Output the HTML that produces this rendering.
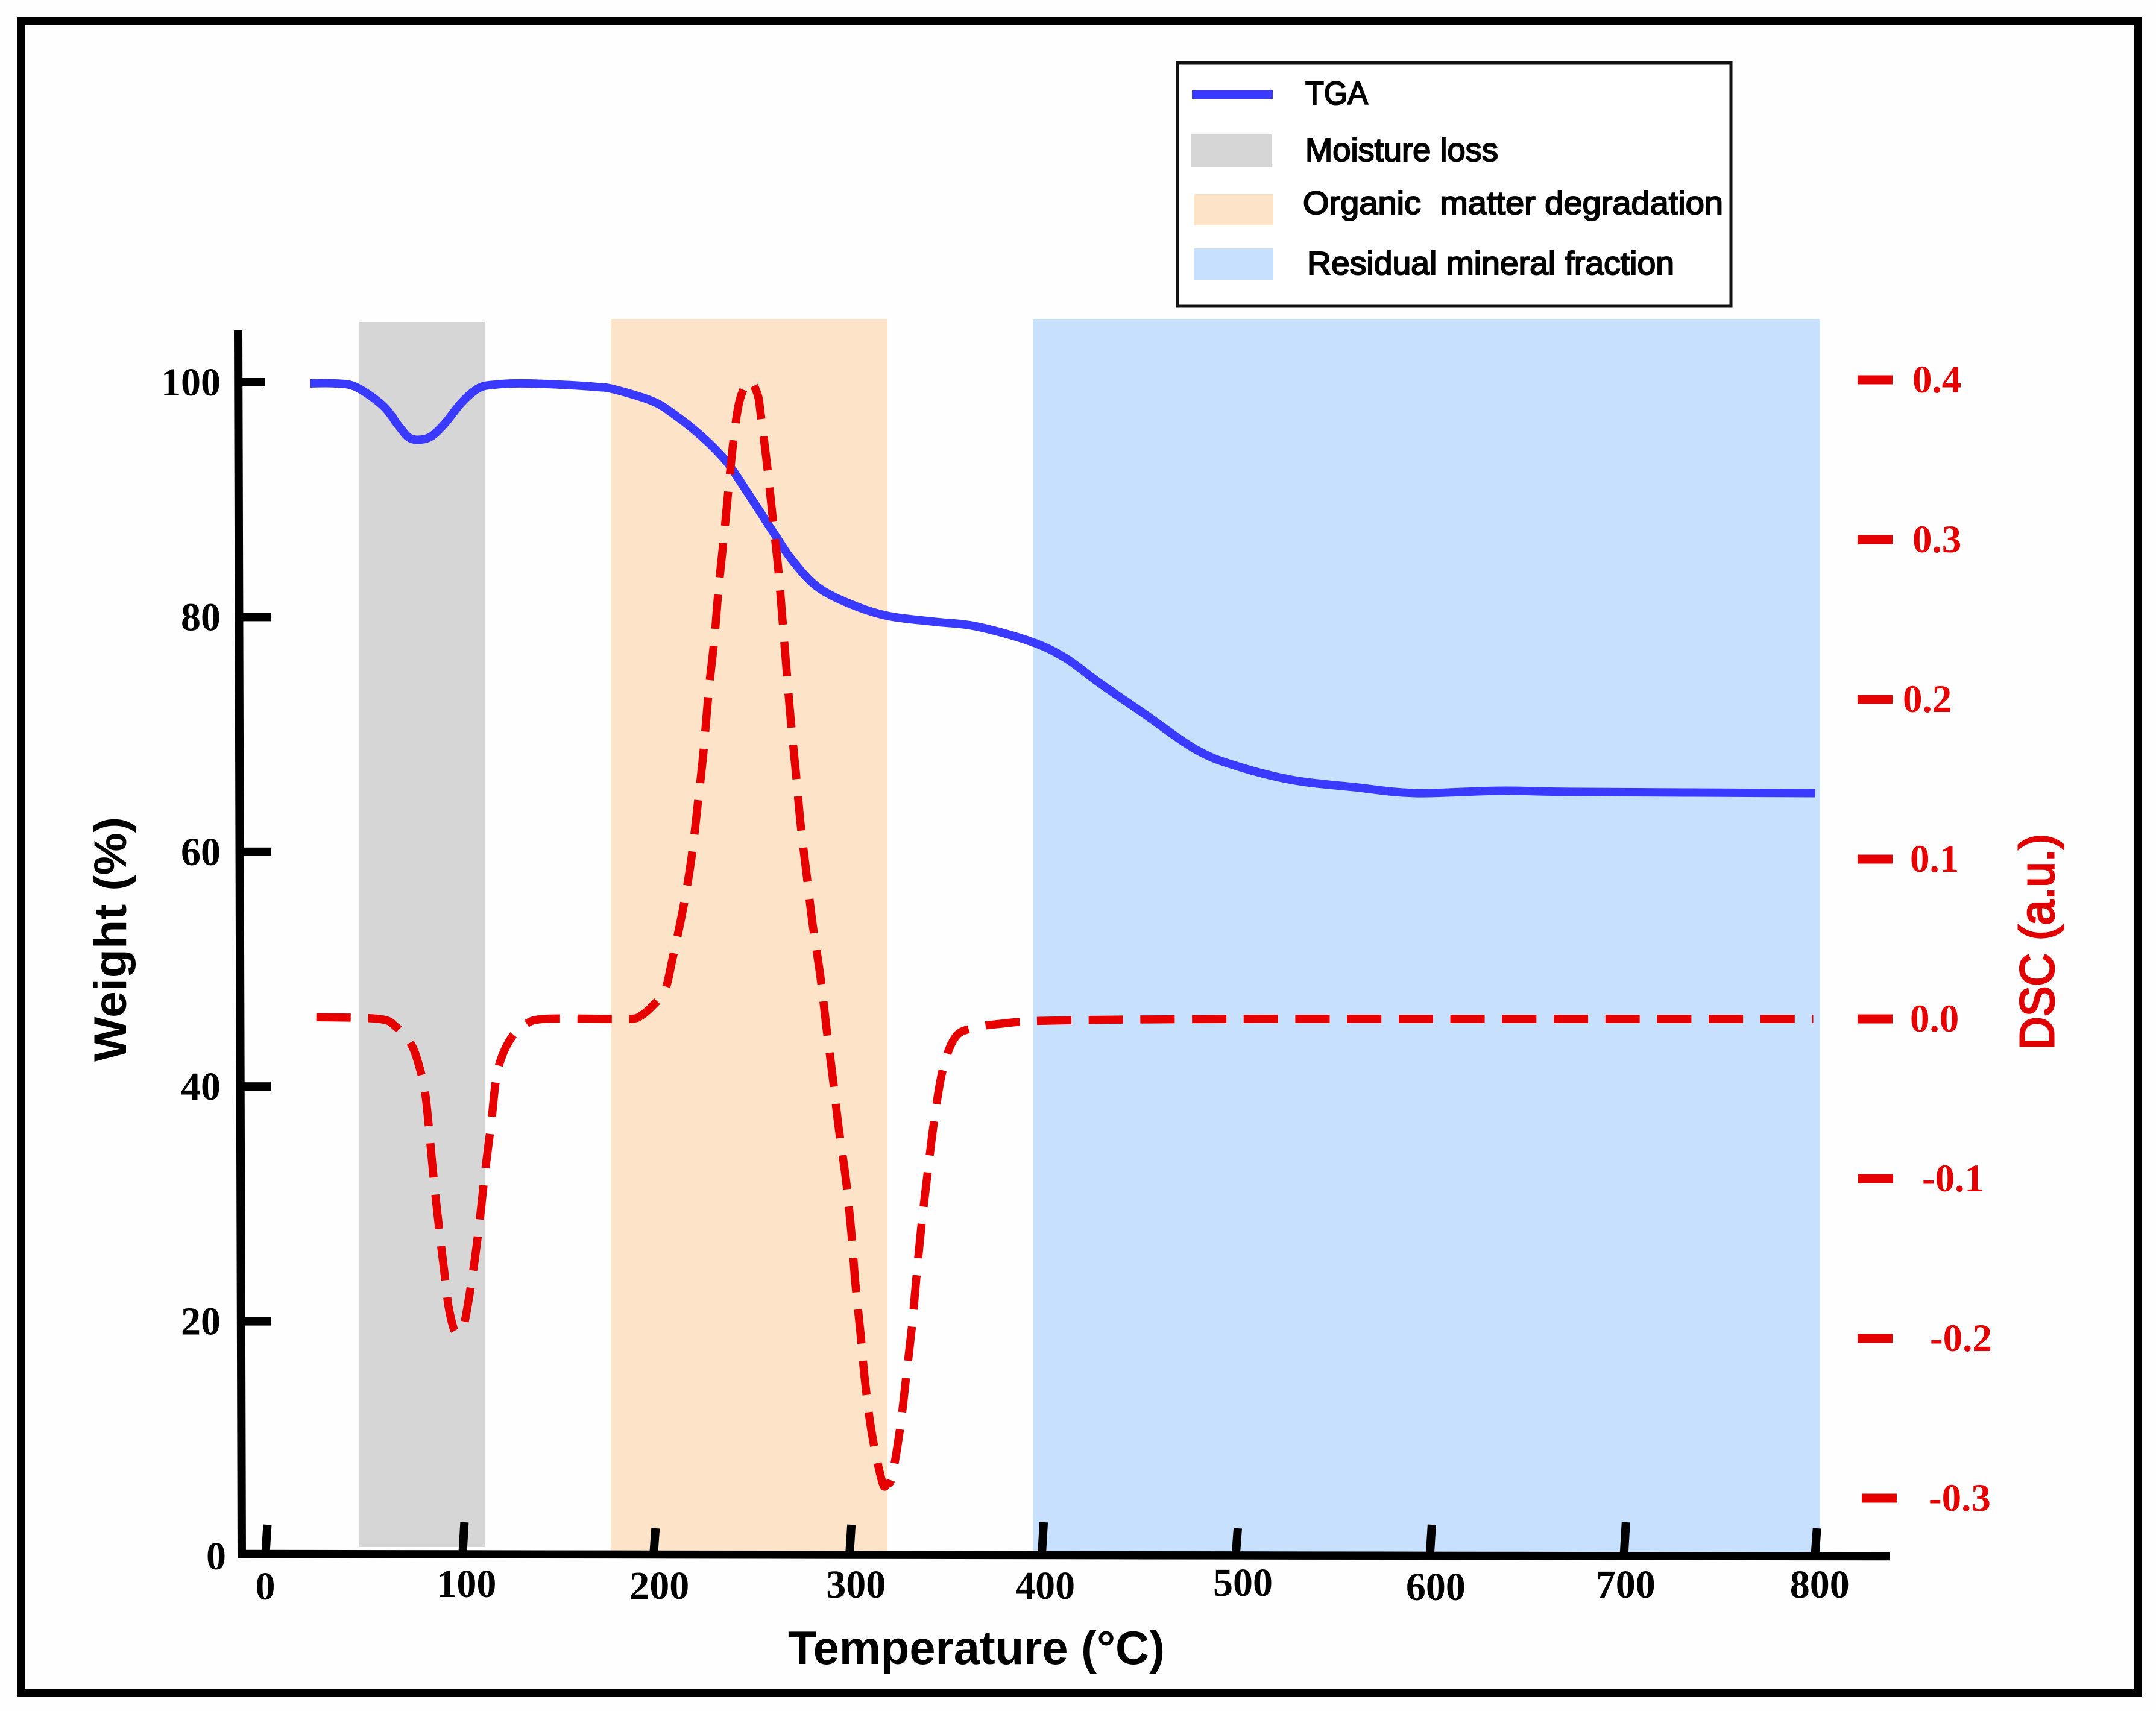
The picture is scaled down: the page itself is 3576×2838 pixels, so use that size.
<!DOCTYPE html>
<html lang="en">
<head>
<meta charset="utf-8">
<title>TGA and DSC curves</title>
<style>
html,body{margin:0;padding:0;background:#fff;}
svg{display:block;}
.sans{font-family:"Liberation Sans",sans-serif;}
.serif{font-family:"Liberation Serif",serif;font-weight:bold;}
</style>
</head>
<body>
<svg id="chart" xmlns="http://www.w3.org/2000/svg" width="3576" height="2838" viewBox="0 0 3576 2838">
  <rect x="0" y="0" width="3576" height="2838" fill="#fefefe"/>
  <rect x="35" y="35" width="3511" height="2773" fill="none" stroke="#000" stroke-width="14"/>

  <g id="bands"></g>
  <g id="axes">
    <line x1="395" y1="547" x2="401" y2="2584" stroke="#000" stroke-width="14"/>
    <line x1="394" y1="2577.5" x2="3135" y2="2581.5" stroke="#000" stroke-width="13.5"/>
  </g>
  <g id="xTicksGroup"></g>
  <g id="weightTicksGroup"></g>
  <g id="dscTicksGroup"></g>
  <g id="series"></g>

  <text class="sans" x="1307" y="2760" font-size="78" font-weight="bold" fill="#000" textLength="625" lengthAdjust="spacingAndGlyphs">Temperature (°C)</text>
  <text class="sans" transform="translate(209 1761) rotate(-90)" font-size="76" font-weight="bold" fill="#000" textLength="406" lengthAdjust="spacingAndGlyphs">Weight (%)</text>
  <text class="sans" transform="translate(3406 1741) rotate(-90)" font-size="80" font-weight="normal" fill="#e00000" stroke="#e00000" stroke-width="3" textLength="358" lengthAdjust="spacingAndGlyphs">DSC (a.u.)</text>

  <g>
    <rect x="1953" y="104" width="918" height="404" fill="#ffffff" stroke="#111" stroke-width="5"/>
    <rect x="1977" y="150" width="134" height="14" fill="#3a3aff"/>
    <rect x="1976" y="223" width="133" height="54" fill="#d6d6d6"/>
    <rect x="1980" y="322" width="132" height="52" fill="#fde3c8"/>
    <rect x="1980" y="412" width="132" height="52" fill="#c6e0fd"/>
    <text class="sans" x="2165" y="173" font-size="54" fill="#000" stroke="#000" stroke-width="2" textLength="104" lengthAdjust="spacingAndGlyphs">TGA</text>
    <text class="sans" x="2165" y="267" font-size="54" fill="#000" stroke="#000" stroke-width="2" textLength="320" lengthAdjust="spacingAndGlyphs">Moisture loss</text>
    <text class="sans" x="2161" y="355" font-size="54" fill="#000" stroke="#000" stroke-width="2" textLength="697" lengthAdjust="spacingAndGlyphs" xml:space="preserve">Organic  matter degradation</text>
    <text class="sans" x="2168" y="455" font-size="54" fill="#000" stroke="#000" stroke-width="2" textLength="609" lengthAdjust="spacingAndGlyphs">Residual mineral fraction</text>
  </g>
</svg>

<script>
// ---- chart data ----
var xTickValues = [0, 100, 200, 300, 400, 500, 600, 700, 800];
var weightTickValues = [0, 20, 40, 60, 80, 100];
var dscTickValues = [0.4, 0.3, 0.2, 0.1, 0.0, -0.1, -0.2, -0.3];
var dscTickLabels = ['0.4', '0.3', '0.2', '0.1', '0.0', '-0.1', '-0.2', '-0.3'];

var bandNames = ['moisture-loss-band', 'organic-matter-band', 'residual-mineral-band'];
var bandStart = [47.8, 177.4, 394.9];
var bandEnd = [112.5, 320, 800.6];

var tgaTemp = [22.6, 35, 46, 60, 68, 73.3, 78.8, 85, 92, 100.7, 109.4, 118, 131, 150.7, 170, 179, 198.7, 209.7, 222.8, 234.6, 242.3, 262, 270.6, 283.6, 301, 320, 344, 365.7, 394, 411.7, 429, 451, 479, 500, 529, 560.7, 592, 635, 677.5, 798];
var tgaWeight = [99.9, 99.9, 99.6, 98, 96.3, 95.3, 95.1, 95.4, 96.5, 98.3, 99.5, 99.8, 99.9, 99.8, 99.6, 99.4, 98.4, 97.3, 95.6, 93.7, 92, 87, 84.9, 82.6, 81.1, 80.1, 79.6, 79.2, 77.9, 76.5, 74.4, 71.9, 68.7, 67.3, 66.1, 65.5, 65, 65.2, 65.1, 65];

var dscTemp = [25.7, 57.8, 66.8, 74.6, 79, 81.7, 83.6, 86, 88.9, 92, 93.8, 96.5, 98, 101.6, 106.2, 109.6, 112.5, 115.8, 119, 125, 132.8, 143, 174.6, 188, 193, 198.8, 205.3, 209.1, 214.6, 218.9, 222, 224.9, 228, 230.8, 233, 235.8, 238.3, 241, 244, 248.8, 253, 254.7, 258, 260.8, 263.6, 265.8, 268, 270.2, 272.8, 275.2, 278.3, 281.5, 285.4, 288.5, 291.7, 294.8, 298.5, 301.3, 303.4, 306, 308.5, 312, 317.3, 319.9, 322.4, 326.5, 329.6, 332.7, 335, 337.6, 340.7, 344, 348.4, 354.6, 363, 378.6, 406, 500, 600, 700, 797];
var dscValue = [0.001, 0, -0.005, -0.016, -0.031, -0.046, -0.067, -0.098, -0.131, -0.162, -0.18, -0.194, -0.195, -0.192, -0.16, -0.129, -0.097, -0.065, -0.033, -0.014, -0.004, 0, 0, 0, 0.002, 0.008, 0.018, 0.037, 0.0687, 0.1, 0.132, 0.164, 0.207, 0.238, 0.27, 0.303, 0.335, 0.366, 0.388, 0.399, 0.391, 0.378, 0.346, 0.314, 0.283, 0.251, 0.218, 0.186, 0.154, 0.122, 0.0906, 0.0585, 0.0266, -0.0053, -0.036, -0.068, -0.1, -0.133, -0.165, -0.196, -0.228, -0.26, -0.29, -0.291, -0.286, -0.256, -0.224, -0.191, -0.16, -0.128, -0.096, -0.064, -0.032, -0.012, -0.006, -0.003, -0.001, 0, 0, 0, 0];

// ---- axis functions ----
function xScale(t) { return 442 + 3.219 * t; }
function weightScale(w) { return 2581 - 19.47 * w; }
function dscScale(v) { return 1690 - 2650 * v; }

// small hand-drawn offsets of the original figure (keyed by tick value, not data)
function xTickNudge(v) { return v === 100 ? 5 : v === 300 ? 3 : v === 800 ? -5 : 0; }
function xTickTop(v) { var r = v % 300; return r === 0 ? 2529 : r === 100 ? 2525 : 2535; }
function xLabelCenter(v) { return xScale(v) + (v === 0 ? -2 : v === 100 ? 10 : v === 200 ? 8 : v === 300 ? 12 : v === 400 ? 4 : v === 500 ? 10 : v === 600 ? 8 : v === 700 ? 1 : 1); }
function xLabelBase(v) { return v === 400 ? 2652 : v === 500 ? 2647 : v === 600 ? 2654 : v === 100 ? 2649 : v === 200 ? 2652 : v === 0 ? 2653 : 2650; }
function dscLabelX(i) { var a = 3172; if (i === 2) a = 3156; if (i === 5) a = 3188; if (i === 6) a = 3201; if (i === 7) a = 3199; if (i === 3 || i === 4) a = 3168; return a; }
function dscTickX(i) { return i === 7 ? 3088 : i === 5 ? 3082 : 3081; }

var NS = 'http://www.w3.org/2000/svg';

function smoothPath(xs, ys) {
  var d = 'M' + xs[0].toFixed(1) + ' ' + ys[0].toFixed(1);
  for (var i = 0; i < xs.length - 1; i++) {
    var p0 = Math.max(i - 1, 0), p2 = i + 1, p3 = Math.min(i + 2, xs.length - 1);
    var k = 6;
    var c1x = xs[i] + (xs[p2] - xs[p0]) / k, c1y = ys[i] + (ys[p2] - ys[p0]) / k;
    var c2x = xs[p2] - (xs[p3] - xs[i]) / k, c2y = ys[p2] - (ys[p3] - ys[i]) / k;
    d += 'C' + c1x.toFixed(1) + ' ' + c1y.toFixed(1) + ' ' + c2x.toFixed(1) + ' ' + c2y.toFixed(1) + ' ' + xs[p2].toFixed(1) + ' ' + ys[p2].toFixed(1);
  }
  return d;
}

// ---- bands ----
var bandsG = document.getElementById('bands');
var bandFills = ['#d6d6d6', '#fde3c8', '#c6e0fd'];
var bandTops = [534, 529, 529];
var bandBottoms = [2566, 2574, 2576];
bandNames.forEach(function (name, i) {
  var r = document.createElementNS(NS, 'rect');
  
  
  var x0 = xScale(bandStart[i]), x1 = xScale(bandEnd[i]);
  r.setAttribute('x', x0);
  r.setAttribute('y', bandTops[i]);
  r.setAttribute('width', x1 - x0);
  r.setAttribute('height', bandBottoms[i] - bandTops[i]);
  r.setAttribute('fill', bandFills[i]);
  bandsG.appendChild(r);
});

// ---- x ticks ----
var xG = document.getElementById('xTicksGroup');
xTickValues.forEach(function (v) {
  var x = xScale(v) + xTickNudge(v);
  var t = document.createElementNS(NS, 'line');
  
  
  t.setAttribute('x1', x - 1.5);
  t.setAttribute('y1', 2576);
  t.setAttribute('x2', x + 1.5);
  t.setAttribute('y2', xTickTop(v));
  t.setAttribute('stroke', '#000');
  t.setAttribute('stroke-width', '14');
  xG.appendChild(t);
  var l = document.createElementNS(NS, 'text');
  
  
  l.setAttribute('class', 'serif');
  l.setAttribute('x', xLabelCenter(v));
  l.setAttribute('y', xLabelBase(v));
  l.setAttribute('font-size', '66');
  l.setAttribute('text-anchor', 'middle');
  l.setAttribute('fill', '#000');
  l.textContent = String(v);
  xG.appendChild(l);
});

// ---- weight ticks ----
var wG = document.getElementById('weightTicksGroup');
weightTickValues.forEach(function (v) {
  var y = weightScale(v);
  if (v > 0) {
    var t = document.createElementNS(NS, 'rect');
    
    
    t.setAttribute('x', 398);
    t.setAttribute('y', y - 7);
    t.setAttribute('width', v === 100 ? 41 : 51);
    t.setAttribute('height', 14);
    t.setAttribute('fill', '#000');
    wG.appendChild(t);
  }
  var l = document.createElementNS(NS, 'text');
  
  
  l.setAttribute('class', 'serif');
  l.setAttribute('x', v === 0 ? 375 : 366);
  l.setAttribute('y', y + 22);
  l.setAttribute('font-size', '66');
  l.setAttribute('text-anchor', 'end');
  l.setAttribute('fill', '#000');
  l.textContent = String(v);
  wG.appendChild(l);
});

// ---- DSC ticks ----
var dG = document.getElementById('dscTicksGroup');
dscTickValues.forEach(function (v, i) {
  var y = dscScale(v);
  var t = document.createElementNS(NS, 'rect');
  
  
  t.setAttribute('x', dscTickX(i));
  t.setAttribute('y', y - 7.5);
  t.setAttribute('width', 58);
  t.setAttribute('height', 15);
  t.setAttribute('fill', '#e60000');
  dG.appendChild(t);
  var l = document.createElementNS(NS, 'text');
  
  
  l.setAttribute('class', 'serif');
  l.setAttribute('x', dscLabelX(i));
  l.setAttribute('y', y + 21);
  l.setAttribute('font-size', '65');
  l.setAttribute('fill', '#e60000');
  l.textContent = dscTickLabels[i];
  dG.appendChild(l);
});

// ---- series ----
var sG = document.getElementById('series');

var dscPath = document.createElementNS(NS, 'path');


dscPath.setAttribute('d', smoothPath(dscTemp.map(xScale), dscValue.map(dscScale)));
dscPath.setAttribute('fill', 'none');
dscPath.setAttribute('stroke', '#e60000');
dscPath.setAttribute('stroke-width', '13.5');
dscPath.setAttribute('stroke-dasharray', '57 28.7');

var tgaPath = document.createElementNS(NS, 'path');


tgaPath.setAttribute('d', smoothPath(tgaTemp.map(xScale), tgaWeight.map(weightScale)));
tgaPath.setAttribute('fill', 'none');
tgaPath.setAttribute('stroke', '#3a3aff');
tgaPath.setAttribute('stroke-width', '14');
tgaPath.setAttribute('stroke-linejoin', 'round');

sG.appendChild(tgaPath);
sG.appendChild(dscPath);
</script>
</body>
</html>
